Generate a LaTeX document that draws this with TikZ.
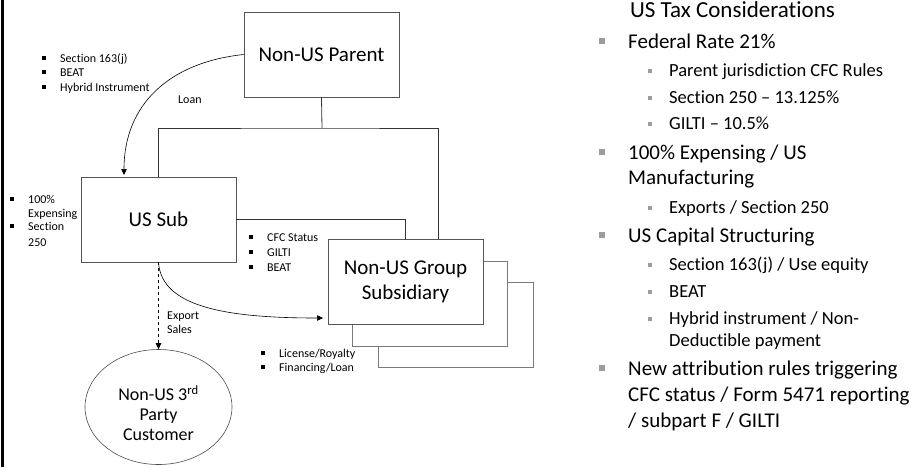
\documentclass[tikz,border=0pt]{standalone}
\usepackage{fontspec}
\setmainfont{Carlito}[Ligatures=NoCommon]
\usetikzlibrary{arrows.meta,shapes.geometric}
\definecolor{framegray}{HTML}{555555}
\definecolor{stackgray}{HTML}{7A7A7A}
\definecolor{bulletgray}{HTML}{9C9C9C}

\begin{document}
\begin{tikzpicture}[x=1pt,y=-1pt,
  boxdecorate/.style={shape=rectangle,draw=framegray,fill=white,line width=0.9pt,
    minimum width=155pt,minimum height=85pt,inner sep=0pt,align=center,
    font=\fontsize{21}{25}\selectfont},
  stackdecorate/.style={shape=rectangle,draw=stackgray,fill=white,line width=0.9pt,
    minimum width=155pt,minimum height=85pt,inner sep=0pt},
  linedecorate/.style={-,draw=black!80,line width=0.8pt},
  arrowdecorate/.style={-{Triangle[length=6pt,width=5.5pt]},draw=black,line width=0.6pt},
  smalltext/.style={anchor=base west,inner sep=0pt,font=\fontsize{12}{14}\selectfont},
  smallbullet/.style={shape=rectangle,fill=black,inner sep=0pt,minimum size=3.5pt},
  levelone/.style={anchor=base west,inner sep=0pt,font=\fontsize{21}{25}\selectfont},
  leveltwo/.style={anchor=base west,inner sep=0pt,font=\fontsize{18.5}{22}\selectfont},
  bulletone/.style={shape=rectangle,fill=bulletgray,inner sep=0pt,minimum size=5.5pt},
  bullettwo/.style={shape=rectangle,fill=bulletgray,inner sep=0pt,minimum size=4.5pt}]
\useasboundingbox (0,0) rectangle (919,467);
\fill (1,0) rectangle (4,467);

%% entities
\node (parent) at (321.5,54.5) [boxdecorate] {Non-US Parent};
\node (ussub) at (158.5,219.5) [boxdecorate] {US Sub};
\node (groupc) at (455.5,325) [stackdecorate] {};
\node (groupb) at (430,304) [stackdecorate] {};
\node (group) at (405.5,281.5) [boxdecorate] {Non-US Group\\Subsidiary};
\node (customer) at (158.5,407) [shape=ellipse,draw=black!70,line width=0.6pt,
  minimum width=147pt,minimum height=115pt] {};
\node (customertext) at (158.5,413) [align=center,font=\fontsize{18}{20}\selectfont]
  {Non-US 3\textsuperscript{rd}\\Party\\Customer};

%% ownership lines
\coordinate (bus) at (322,128);
\coordinate (grouptop) at (438,239);
\draw[linedecorate] (parent.south) -- (bus);
\draw[linedecorate] (ussub.north) |- (bus) -| (grouptop);
\draw[linedecorate] (ussub.east) -| (group.north);

%% flows
\coordinate (loanend) at (124,175);
\coordinate (salesend) at (323,318);
\draw[arrowdecorate] (parent.west) .. controls +(-75,8) and +(0,-70) .. (loanend);
\draw[arrowdecorate] (ussub.south) .. controls +(3,45) and +(-95,0) .. (salesend);
\draw[arrowdecorate,dashed] (ussub.south) -- (customer.north);

%% small labels
\foreach \nodename/\x/\y/\bul/\labeltext in {
  sa/60/62/1/{Section 163(j)}, sb/60/76/1/{BEAT}, sc/60/91/1/{Hybrid Instrument},
  loan/178/103/0/{Loan},
  ea/28/203/1/{100\%}, eb/28/217/0/{Expensing}, ec/28/230/1/{Section}, ed/28/246/0/{250},
  ca/267/241/1/{CFC Status}, cb/267/256/1/{GILTI}, cc/267/271/1/{BEAT},
  xa/167/319/0/{Export}, xb/167/333/0/{Sales},
  la/279/357/1/{License/Royalty}, lb/279/371/1/{Financing/Loan}} {
  \node (\nodename) at (\x,\y) [smalltext] {\labeltext};
  \ifnum\bul=1 \node [smallbullet] at (\x-16,\y-4) {}; \fi
}

%% considerations list
\node (title) at (630,17) [anchor=base west,inner sep=0pt,font=\fontsize{23}{27}\selectfont]
  {US Tax Considerations};
\foreach \nodename/\y/\bul/\itemtext in {
  fed/48/1/{Federal Rate 21\%},
  exp/159/1/{100\% Expensing / US}, expb/184/0/{Manufacturing},
  capital/242/1/{US Capital Structuring},
  attr/375/1/{New attribution rules triggering},
  attrb/401/0/{CFC status / Form 5471 reporting},
  attrc/427/0/{/ subpart F / GILTI}} {
  \node (\nodename) at (628,\y) [levelone] {\itemtext};
  \ifnum\bul=1 \node [bulletone] at (602,\y-7) {}; \fi
}
\foreach \nodename/\y/\bul/\itemtext in {
  cfc/76/1/{Parent jurisdiction CFC Rules},
  sec/103/1/{Section 250 -- 13.125\%},
  gilti/129/1/{GILTI -- 10.5\%},
  exports/213/1/{Exports / Section 250},
  interest/270/1/{Section 163(j) / Use equity},
  beat/297/1/{BEAT},
  hybrid/324/1/{Hybrid instrument / Non-},
  hybridb/346/0/{Deductible payment}} {
  \node (\nodename) at (669,\y) [leveltwo] {\itemtext};
  \ifnum\bul=1 \node [bullettwo] at (650,\y-5) {}; \fi
}
\end{tikzpicture}
\end{document}
